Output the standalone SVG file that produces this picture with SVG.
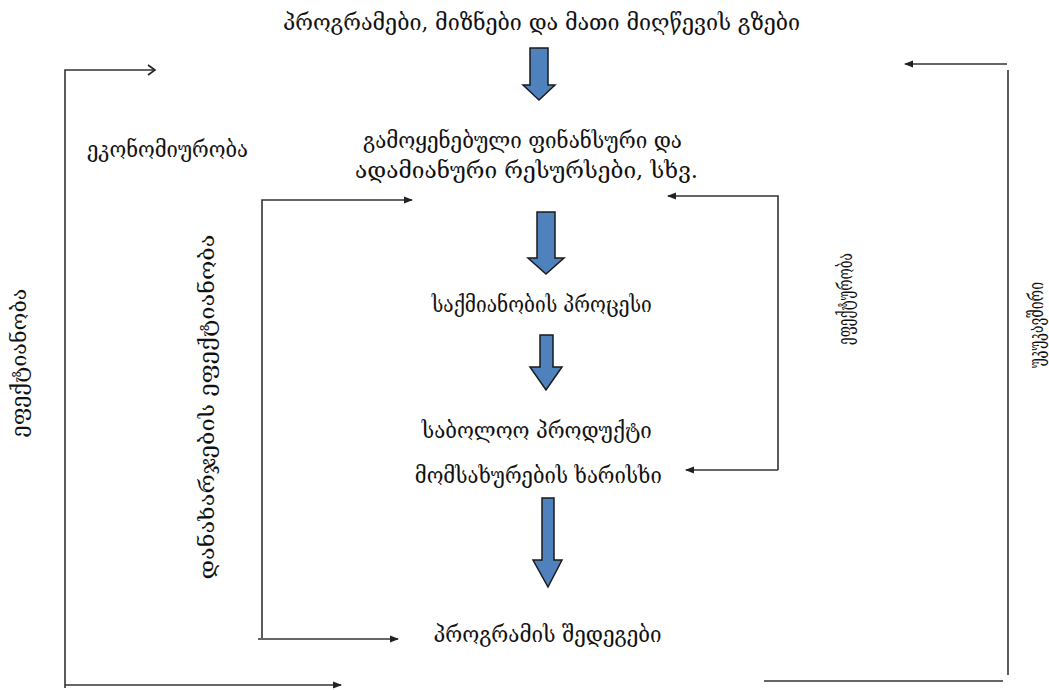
<svg xmlns="http://www.w3.org/2000/svg" width="1049" height="690" viewBox="0 0 1049 690">
<defs>
<style>
.t{font-family:"DejaVu Serif","DejaVu Sans",serif;font-size:22px;fill:#111;text-anchor:middle}
.v{font-family:"DejaVu Serif","DejaVu Sans",serif;font-size:20px;fill:#111;text-anchor:middle}
.ln{fill:none;stroke:#333;stroke-width:1.6}
.ba{fill:#4F81BD;stroke:#1a1a1a;stroke-width:1.5;stroke-linejoin:miter}
</style>
<marker id="open" markerWidth="12" markerHeight="12" refX="9" refY="6" orient="auto" markerUnits="userSpaceOnUse">
<path d="M2,1 L9,6 L2,11" fill="none" stroke="#222" stroke-width="1.6"/>
</marker>
<marker id="fill" markerWidth="10" markerHeight="10" refX="8" refY="5" orient="auto" markerUnits="userSpaceOnUse">
<path d="M0,1.5 L9,5 L0,8.5 Z" fill="#222"/>
</marker>
</defs>
<rect width="1049" height="690" fill="#fff"/>

<g id="connectors">
<polyline class="ln" points="65,688 65,70 155,70" marker-end="url(#open)"/>
<line class="ln" x1="65" y1="685" x2="341" y2="685" marker-end="url(#fill)"/>
<polyline class="ln" points="262,638 262,200 412,200" marker-end="url(#fill)"/>
<line class="ln" x1="258" y1="639" x2="398" y2="639" marker-end="url(#fill)"/>
<polyline class="ln" points="778,470 778,196 668,196" marker-end="url(#fill)"/>
<line class="ln" x1="778" y1="470" x2="686" y2="470" marker-end="url(#fill)"/>
<line class="ln" x1="1007" y1="64" x2="905" y2="64" marker-end="url(#fill)"/>
<line class="ln" x1="1008" y1="70" x2="1008" y2="675"/>
<line class="ln" x1="764" y1="681" x2="1003" y2="681"/>
</g>

<g id="block-arrows">
<path class="ba" d="M530,48 H548 V85 H555 L539,100 L523,85 H530 Z"/>
<path class="ba" d="M537,212 H555 V258 H564 L546,274 L528,258 H537 Z"/>
<path class="ba" d="M540,335 H553 V367 H562 L546,390 L530,367 H540 Z"/>
<path class="ba" d="M542,498 H554 V560 H562 L548,587 L533,560 H542 Z"/>
</g>

<g id="n-top"><text class="t" x="541.5" y="30" textLength="517" lengthAdjust="spacingAndGlyphs">პროგრამები, მიზნები და მათი მიღწევის გზები</text></g>
<g id="n-econ"><text class="t" x="167.5" y="157" textLength="161" lengthAdjust="spacingAndGlyphs">ეკონომიურობა</text></g>
<g id="n-resources">
<text class="t" x="522.5" y="148" textLength="319" lengthAdjust="spacingAndGlyphs">გამოყენებული ფინანსური და</text>
<text class="t" x="526.5" y="178" textLength="343" lengthAdjust="spacingAndGlyphs">ადამიანური რესურსები, სხვ.</text>
</g>
<g id="n-process"><text class="t" x="541.7" y="312" textLength="220" lengthAdjust="spacingAndGlyphs">საქმიანობის პროცესი</text></g>
<g id="n-product"><text class="t" x="536.7" y="438" textLength="230" lengthAdjust="spacingAndGlyphs">საბოლოო პროდუქტი</text></g>
<g id="n-quality"><text class="t" x="538.3" y="483" textLength="247" lengthAdjust="spacingAndGlyphs">მომსახურების ხარისხი</text></g>
<g id="n-results"><text class="t" x="547.5" y="642" textLength="228" lengthAdjust="spacingAndGlyphs">პროგრამის შედეგები</text></g>

<g id="n-effectiveness-left"><text class="v" transform="translate(26,363) rotate(-90)" textLength="149" lengthAdjust="spacingAndGlyphs">ეფექტიანობა</text></g>
<g id="n-cost-effectiveness"><text class="v" transform="translate(214,407) rotate(-90)" textLength="345" lengthAdjust="spacingAndGlyphs">დანახარჯების ეფექტიანობა</text></g>
<g id="n-effectiveness-right"><text class="v" transform="translate(852,299) rotate(-90)" textLength="92" lengthAdjust="spacingAndGlyphs">ეფექტურობა</text></g>
<g id="n-feedback"><text class="v" transform="translate(1043,325) rotate(-90)" textLength="86" lengthAdjust="spacingAndGlyphs">უკუკავშირი</text></g>
</svg>
